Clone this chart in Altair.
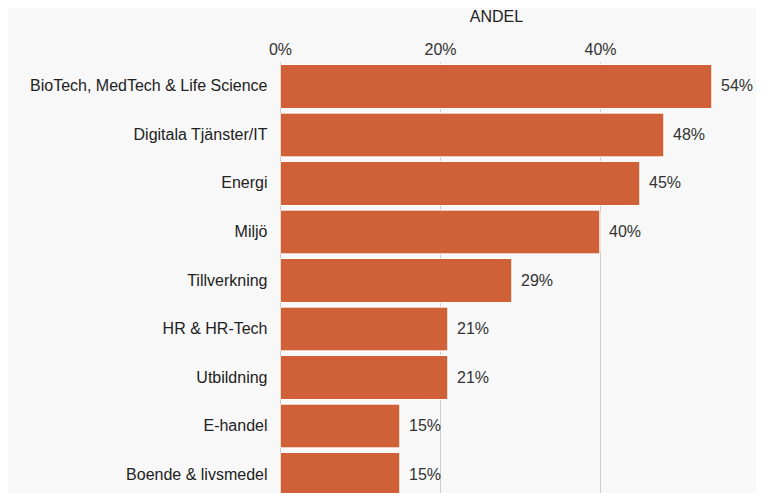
import altair as alt
import pandas as pd

categories = ["BioTech, MedTech & Life Science", "Digitala Tjänster/IT", "Energi", "Miljö",
              "Tillverkning", "HR & HR-Tech", "Utbildning", "E-handel", "Boende & livsmedel"]
values = [0.54, 0.48, 0.45, 0.40, 0.29, 0.21, 0.21, 0.15, 0.15]
labels = ["54%", "48%", "45%", "40%", "29%", "21%", "21%", "15%", "15%"]

df = pd.DataFrame({"kategori": categories, "andel": values, "etikett": labels})

FONT = "Liberation Sans"
FS = 16

y = alt.Y("kategori:N", sort=categories, title=None,
          scale=alt.Scale(paddingInner=0.09, paddingOuter=0.05),
          axis=alt.Axis(domain=False, ticks=False, labelPadding=13, labelFontSize=FS, labelLimit=400,
                        labelFont=FONT, labelColor="#222222", grid=False))
x = alt.X("andel:Q", title="ANDEL",
          scale=alt.Scale(domain=[0, 0.54], nice=False),
          axis=alt.Axis(orient="top", format="%", values=[0, 0.2, 0.4], domain=False, ticks=False,
                        labelPadding=5, labelFontSize=FS, labelFont=FONT, labelColor="#333333",
                        titleFont=FONT, titleFontSize=FS, titleFontWeight="normal", titleColor="#222222",
                        titlePadding=17, gridColor="#cccccc", gridWidth=1, labelFlush=False))

bars = alt.Chart(df).mark_bar(color="#cf6038", stroke="white", strokeWidth=1, cornerRadius=2).encode(
    x=x, y=y)
text = alt.Chart(df).mark_text(align="left", dx=9, fontSize=FS, font=FONT, color="#333333").encode(
    x="andel:Q", y=alt.Y("kategori:N", sort=categories), text="etikett:N")

chart = (bars + text).properties(
    width=432, height=437, background="#f8f8f8",
    padding={"left": 21, "top": 0, "right": 2, "bottom": 5},
).configure_view(stroke=None)
chart.save("out.html", embed_options={"renderer": "svg", "actions": False})
